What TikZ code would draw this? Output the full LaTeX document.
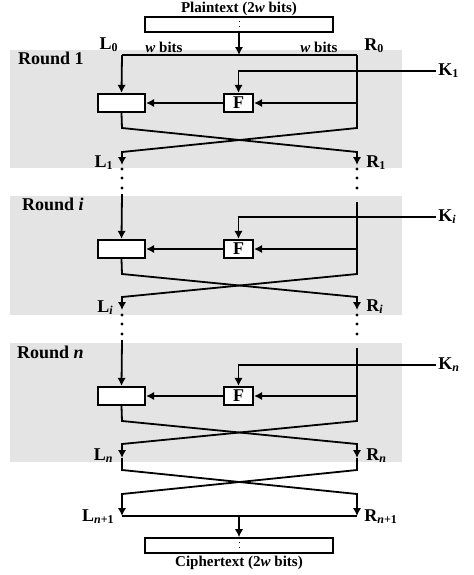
\documentclass[tikz,border=0pt]{standalone}
\usepackage{fontspec}
\setmainfont{Liberation Serif}
\usetikzlibrary{arrows.meta}
\definecolor{roundgray}{RGB}{228,228,228}
\newcommand{\LRlab}[2]{\textbf{#1\textsubscript{#2}}}

\begin{document}
\begin{tikzpicture}[
            x = 0.5pt, y = -0.5pt, % pixel-like units
            > = {Latex[length=4pt,width=4.2pt]}, % arrow head style
            wire/.style = {line width=0.9pt},
            halfbox/.style = {draw, line width=1.1pt, fill=white, minimum width=23.5pt, minimum height=9pt, inner sep=0pt},
            fbox/.style = {draw, line width=1.1pt, fill=white, minimum width=14.5pt, minimum height=9pt, inner sep=0pt, font=\fontsize{9}{9}\selectfont\bfseries},
            textbox/.style = {draw, line width=0.8pt, fill=white, minimum width=94pt, minimum height=7.5pt, inner sep=0pt},
            lbl/.style = {font=\fontsize{9}{10}\selectfont\bfseries, inner sep=1pt},
            small/.style = {font=\fontsize{7.5}{8}\selectfont\bfseries, inner sep=0pt},
            roundbg/.style = {fill=roundgray, draw=none}
        ]
	\useasboundingbox (0,0) rectangle (473,575);

	% round backgrounds
	\fill[roundbg] (10,50) rectangle (402,168);
	\fill[roundbg] (10,196) rectangle (402,315);
	\fill[roundbg] (10,343) rectangle (402,462);
	\node[lbl, anchor=east] (R1lbl) at (86,58) {Round 1};
	\node[lbl, anchor=east] (Rilbl) at (86,204) {Round \textit{i}};
	\node[lbl, anchor=east] (Rnlbl) at (86,352) {Round \textit{n}};

	% plaintext
	\node[textbox] (P) at (239,24.5) {};
	\node[small] (Plbl) at (239,9) {Plaintext (2\textit{w} bits)};
	\draw[dotted] (P.north) -- (P.south);
	\coordinate (L0) at (122,55);
	\coordinate (R0) at (357,55);
	\draw[wire,->] (P.south) -- (P.south |- L0);
	\draw[wire] (L0) -- (R0);
	\node[lbl, anchor=east] (L0lbl) at (121,45) {\LRlab{L}{0}};
	\node[lbl, anchor=west] (R0lbl) at (362,46) {\LRlab{R}{0}};
	\node[small, anchor=base] (wl) at (164,52) {\textit{w} bits};
	\node[small, anchor=base] (wr) at (319,52) {\textit{w} bits};

	% round 1
	\node[halfbox] (X1) at (121.5,103) {};
	\node[fbox] (F1) at (238.5,103) {F};
	\node[lbl, anchor=west] (K1) at (436,71) {\LRlab{K}{1}};
	\coordinate (C1l) at (122,128);
	\coordinate (C1r) at (357,128);
	\coordinate (D1l) at (122,152);
	\coordinate (D1r) at (357,152);
	\coordinate (L1) at (122,165);
	\coordinate (R1) at (357,165);
	\draw[wire,->] (L0) -- (X1.north);
	\draw[wire,->] (K1.west) -| (F1.north);
	\draw[wire,->] (F1.east -| R0) -- (F1.east);
	\draw[wire,->] (F1.west) -- (X1.east);
	\draw[wire,->] (X1.south) -- (C1l) -- (D1r) -- (R1);
	\draw[wire,->] (R0) -- (C1r) -- (D1l) -- (L1);
	\node[lbl, anchor=east] (L1lbl) at (116,163) {\LRlab{L}{1}};
	\node[lbl, anchor=west] (R1lbl) at (364,163) {\LRlab{R}{1}};
	\foreach \y in {169,178,188} {
		\fill (122,\y) circle[radius=0.8pt];
		\fill (357,\y) circle[radius=0.8pt];
	}

	% round i
	\coordinate (Li0) at (122,194);
	\coordinate (Ri0) at (357,202);
	\node[halfbox] (Xi) at (121.5,249) {};
	\node[fbox] (Fi) at (238.5,249) {F};
	\node[lbl, anchor=west] (Ki) at (436,217) {\LRlab{K}{\textit{i}}};
	\coordinate (Cil) at (122,274);
	\coordinate (Cir) at (357,274);
	\coordinate (Dil) at (122,297);
	\coordinate (Dir) at (357,297);
	\coordinate (Li) at (122,310);
	\coordinate (Ri) at (357,310);
	\draw[wire,->] (Li0) -- (Xi.north);
	\draw[wire,->] (Ki.west) -| (Fi.north);
	\draw[wire,->] (Fi.east -| Ri0) -- (Fi.east);
	\draw[wire,->] (Fi.west) -- (Xi.east);
	\draw[wire,->] (Xi.south) -- (Cil) -- (Dir) -- (Ri);
	\draw[wire,->] (Ri0) -- (Cir) -- (Dil) -- (Li);
	\node[lbl, anchor=east] (Lilbl) at (116,308) {\LRlab{L}{\textit{i}}};
	\node[lbl, anchor=west] (Rilbl2) at (364,307) {\LRlab{R}{\textit{i}}};
	\foreach \y in {315,324,334} {
		\fill (122,\y) circle[radius=0.8pt];
		\fill (357,\y) circle[radius=0.8pt];
	}

	% round n
	\coordinate (Ln0) at (122,340);
	\coordinate (Rn0) at (357,348);
	\node[halfbox] (Xn) at (121.5,396) {};
	\node[fbox] (Fn) at (238.5,396) {F};
	\node[lbl, anchor=west] (Kn) at (436,365) {\LRlab{K}{\textit{n}}};
	\coordinate (Cnl) at (122,421);
	\coordinate (Cnr) at (357,421);
	\coordinate (Dnl) at (122,444);
	\coordinate (Dnr) at (357,444);
	\coordinate (Ln) at (122,458);
	\coordinate (Rn) at (357,458);
	\draw[wire,->] (Ln0) -- (Xn.north);
	\draw[wire,->] (Kn.west) -| (Fn.north);
	\draw[wire,->] (Fn.east -| Rn0) -- (Fn.east);
	\draw[wire,->] (Fn.west) -- (Xn.east);
	\draw[wire,->] (Xn.south) -- (Cnl) -- (Dnr) -- (Rn);
	\draw[wire,->] (Rn0) -- (Cnr) -- (Dnl) -- (Ln);
	\node[lbl, anchor=east] (Lnlbl) at (116,456) {\LRlab{L}{\textit{n}}};
	\node[lbl, anchor=west] (Rnlbl2) at (364,456) {\LRlab{R}{\textit{n}}};

	% final swap and ciphertext
	\coordinate (El) at (122,470);
	\coordinate (Er) at (357,470);
	\coordinate (Gl) at (122,494);
	\coordinate (Gr) at (357,494);
	\coordinate (Lf) at (122,516);
	\coordinate (Rf) at (357,516);
	\draw[wire,->] (Ln) -- (El) -- (Gr) -- (Rf);
	\draw[wire,->] (Rn) -- (Er) -- (Gl) -- (Lf);
	\draw[wire] (Lf) -- (Rf);
	\node[textbox] (C) at (239,545.5) {};
	\node[small] (Clbl) at (239,563) {Ciphertext (2\textit{w} bits)};
	\draw[dotted] (C.north) -- (C.south);
	\draw[wire,->] (C.north |- Lf) -- (C.north);
	\node[lbl, anchor=east] (Lflbl) at (117,517) {\LRlab{L}{\textit{n}+1}};
	\node[lbl, anchor=west] (Rflbl) at (362,517) {\LRlab{R}{\textit{n}+1}};

\end{tikzpicture}
\end{document}
